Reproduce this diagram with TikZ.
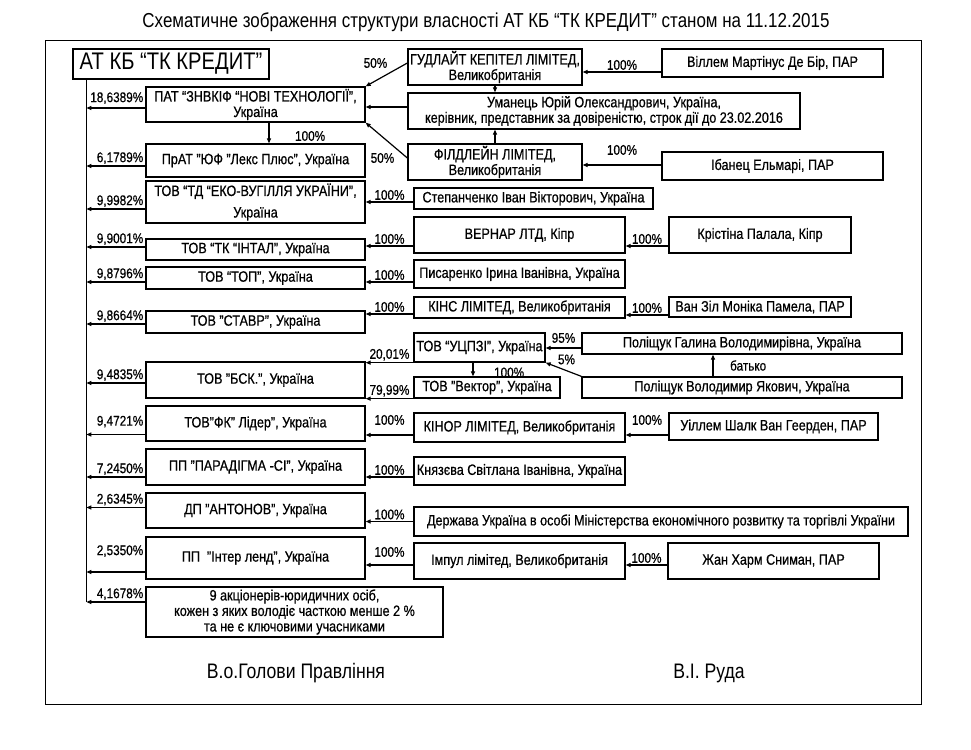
\documentclass[tikz,border=0pt]{standalone}
\usepackage{fontspec}
\setmainfont[FakeStretch=0.84,FakeBold=0.6]{Liberation Sans}
\newfontfamily\plainfont[FakeStretch=0.84]{Liberation Sans}
\usetikzlibrary{positioning,calc,arrows.meta}
\tikzset{font=\fontsize{15}{15.5}\selectfont}

\begin{document}
\begin{tikzpicture}[x=1pt,y=-1pt]
	\useasboundingbox (0,0) rectangle (971,749);
	\begin{scope}
		\tikzstyle{every node}=[align=center, inner sep=0pt]
		\tikzstyle{box}=[draw, line width=1.3pt]
		\tikzstyle{pct}=[font=\fontsize{14}{15}\selectfont, inner sep=1.5pt]
		\tikzstyle{arr}=[line width=1.2pt, -{Triangle[length=5pt,width=4pt]}]

		\draw[line width=0.8pt] (45,40) rectangle (921,704);
		\node[font=\plainfont\fontsize{20.2}{22}\selectfont] (heading) at (486,22) {Схематичне зображення структури власності АТ КБ “ТК КРЕДИТ” станом на 11.12.2015};
		\node[box, font=\plainfont\fontsize{24}{26}\selectfont, minimum width=196, minimum height=30] (kredyt) at (171,64) {АТ КБ “ТК КРЕДИТ”};

		% direct holders
		\node[box, minimum width=219, minimum height=35] (znvkif) at (255.5,104.5) {ПАТ “ЗНВКІФ “НОВІ ТЕХНОЛОГІЇ”,\\Україна};
		\node[box, minimum width=219, minimum height=33] (lex)    at (255.5,160.5) {ПрАТ "ЮФ "Лекс Плюс", Україна};
		\node[box, minimum width=219, minimum height=42] (vuhil)  at (255.5,202)   {ТОВ “ТД “ЕКО-ВУГІЛЛЯ УКРАЇНИ”,\\[6pt]Україна};
		\node[box, minimum width=219, minimum height=21] (intal)  at (255.5,249.5) {ТОВ “ТК “ІНТАЛ”, Україна};
		\node[box, minimum width=219, minimum height=22] (tovtop) at (255.5,278)   {ТОВ “ТОП”, Україна};
		\node[box, minimum width=219, minimum height=22] (stavr)  at (255.5,322)   {ТОВ "СТАВР", Україна};
		\node[box, minimum width=219, minimum height=36] (bsk)    at (255.5,380)   {ТОВ "БСК.", Україна};
		\node[box, minimum width=219, minimum height=35] (lider)  at (255.5,423.5) {ТОВ"ФК" Лідер", Україна};
		\node[box, minimum width=219, minimum height=36] (parad)  at (255.5,467)   {ПП "ПАРАДІГМА -СІ", Україна};
		\node[box, minimum width=219, minimum height=35] (anton)  at (255.5,510.5) {ДП "АНТОНОВ", Україна};
		\node[box, minimum width=219, minimum height=42] (inter)  at (255.5,558)   {ПП \ "Інтер ленд", Україна};
		\node[box, minimum width=297, minimum height=50] (minor)  at (294.5,612)   {9 акціонерів-юридичних осіб,\\кожен з яких володіє часткою менше 2 \%\\та не є ключовими учасниками};

		% second level
		\node[box, minimum width=174, minimum height=36] (gudl)   at (495,67)     {ГУДЛАЙТ КЕПІТЕЛ ЛІМІТЕД,\\Великобританія};
		\node[box, minimum width=392, minimum height=36] (uman)   at (604,111)    {Уманець Юрій Олександрович, Україна,\\керівник, представник за довіреністю, строк дії до 23.02.2016};
		\node[box, minimum width=174, minimum height=36] (fild)   at (495,162)    {ФІЛДЛЕЙН ЛІМІТЕД,\\Великобританія};
		\node[box, minimum width=239, minimum height=21] (step)   at (533.5,198.5) {Степанченко Іван Вікторович, Україна};
		\node[box, minimum width=211, minimum height=36] (vern)   at (519.5,235)  {ВЕРНАР ЛТД, Кіпр};
		\node[box, minimum width=211, minimum height=28] (pys)    at (519.5,274)  {Писаренко Ірина Іванівна, Україна};
		\node[box, minimum width=211, minimum height=21] (kins)   at (519.5,307.5) {КІНС ЛІМІТЕД, Великобританія};
		\node[box, minimum width=131, minimum height=29] (ucpz)   at (479.5,347.5) {ТОВ “УЦПЗІ”, Україна};
		\node[box, minimum width=146, minimum height=21] (vekt)   at (487,387.5)  {ТОВ "Вектор", Україна};
		\node[box, minimum width=211, minimum height=29] (kinor)  at (519.5,427.5) {КІНОР ЛІМІТЕД, Великобританія};
		\node[box, minimum width=211, minimum height=28] (knyaz)  at (519.5,471)  {Князєва Світлана Іванівна, Україна};
		\node[box, minimum width=494, minimum height=29] (derzh)  at (661,521.5)  {Держава Україна в особі Міністерства економічного розвитку та торгівлі України};
		\node[box, minimum width=211, minimum height=36] (impul)  at (519.5,561)  {Імпул лімітед, Великобританія};

		% third level
		\node[box, minimum width=221, minimum height=28] (vill)   at (772.5,63)   {Віллем Мартінус Де Бір, ПАР};
		\node[box, minimum width=221, minimum height=28] (iban)   at (772.5,166)  {Ібанец Ельмарі, ПАР};
		\node[box, minimum width=182, minimum height=36] (krist)  at (760,235)    {Крістіна Палала, Кіпр};
		\node[box, minimum width=182, minimum height=20] (vanzil) at (760,307)    {Ван Зіл Моніка Памела, ПАР};
		\node[box, minimum width=320, minimum height=21] (halyna) at (742,343.5)  {Поліщук Галина Володимирівна, Україна};
		\node[box, minimum width=320, minimum height=21] (volod)  at (742,387.5)  {Поліщук Володимир Якович, Україна};
		\node[box, minimum width=209, minimum height=27] (uillem) at (773.5,426.5) {Уіллем Шалк Ван Геерден, ПАР};
		\node[box, minimum width=211, minimum height=36] (zhan)   at (773.5,561)  {Жан Харм Сниман, ПАР};

		\node[font=\plainfont\fontsize{21}{23}\selectfont] (acting) at (296,673) {В.о.Голови Правління};
		\node[font=\plainfont\fontsize{21}{23}\selectfont] (ruda)   at (709,673) {В.І. Руда};

		% trunk into the bank
		\coordinate (trunk) at ([xshift=14pt]kredyt.south west);
		\coordinate (trunkend) at ([yshift=10pt]minor.west -| trunk);
		\draw[line width=1.2pt] (trunk) -- (trunkend);

		\draw[arr] ([yshift=-3.5pt]znvkif.west) -- ([yshift=-3.5pt]znvkif.west -| trunk) node[pct, pos=0, anchor=south east, yshift=2pt] (pznvkif) {18,6389\%};
		\draw[arr] ([yshift=-5.5pt]lex.west) -- ([yshift=-5.5pt]lex.west -| trunk) node[pct, pos=0, anchor=south east] (plex) {6,1789\%};
		\draw[arr] ([yshift=-7pt]vuhil.west) -- ([yshift=-7pt]vuhil.west -| trunk) node[pct, pos=0, anchor=south east] (pvuhil) {9,9982\%};
		\draw[arr] ([yshift=2.5pt]intal.west) -- ([yshift=2.5pt]intal.west -| trunk) node[pct, pos=0, anchor=south east] (pintal) {9,9001\%};
		\draw[arr] ([yshift=-4pt]tovtop.west) -- ([yshift=-4pt]tovtop.west -| trunk) node[pct, pos=0, anchor=south east] (ptovtop) {9,8796\%};
		\draw[arr] ([yshift=-2pt]stavr.west) -- ([yshift=-2pt]stavr.west -| trunk) node[pct, pos=0, anchor=south east] (pstavr) {9,8664\%};
		\draw[arr] ([yshift=-3pt]bsk.west) -- ([yshift=-3pt]bsk.west -| trunk) node[pct, pos=0, anchor=south east] (pbsk) {9,4835\%};
		\draw[arr] ([yshift=-11pt]lider.west) -- ([yshift=-11pt]lider.west -| trunk) node[pct, pos=0, anchor=south east, yshift=5pt] (plider) {9,4721\%};
		\draw[arr] ([yshift=-10pt]parad.west) -- ([yshift=-10pt]parad.west -| trunk) node[pct, pos=0, anchor=south east] (pparad) {7,2450\%};
		\draw[arr] ([yshift=3pt]anton.west) -- ([yshift=3pt]anton.west -| trunk) node[pct, pos=0, anchor=south east] (panton) {2,6345\%};
		\draw[arr] ([yshift=-14pt]inter.west) -- ([yshift=-14pt]inter.west -| trunk) node[pct, pos=0, anchor=south east, yshift=13pt] (pinter) {2,5350\%};
		\draw[arr] ([yshift=10pt]minor.west) -- (trunkend) node[pct, pos=0, anchor=south east] (pminor) {4,1678\%};

		% owners of the holders
		\draw[arr] ([xshift=13.5pt]znvkif.south) -- ([xshift=13.5pt]znvkif.south |- lex.north) node[pct, midway, right=24pt, yshift=-3pt] (pzl) {100\%};
		\draw[arr] ([yshift=4pt]gudl.west) -- (znvkif.north east) node[pct, pos=0, left=18pt] (pgudl) {50\%};
		\draw[arr] ([yshift=4pt]uman.west) -- ([yshift=4pt]uman.west -| znvkif.east);
		\draw[arr] ([yshift=4pt]fild.west) -- (znvkif.south east) node[pct, pos=0, left=11pt] (pfild) {50\%};
		\draw[arr] (gudl.south) -- (gudl.south |- uman.north);
		\draw[arr] (fild.north) -- (fild.north |- uman.south);
		\draw[arr] ([yshift=-9pt]vill.west) -- ([yshift=-9pt]vill.west -| gudl.east) node[pct, midway, above] (pvill) {100\%};
		\draw[arr] ([yshift=1pt]iban.west) -- ([yshift=1pt]iban.west -| fild.east) node[pct, midway, above, yshift=8pt] (piban) {100\%};
		\draw[arr] ([yshift=-3.5pt]step.west) -- ([yshift=-3.5pt]step.west -| vuhil.east) node[pct, midway, above] (pstep) {100\%};
		\draw[arr] ([yshift=-11pt]vern.west) -- ([yshift=-11pt]vern.west -| intal.east) node[pct, midway, above] (pvern) {100\%};
		\draw[arr] ([yshift=-11pt]krist.west) -- ([yshift=-11pt]krist.west -| vern.east) node[pct, midway, above] (pkrist) {100\%};
		\draw[arr] ([yshift=-8pt]pys.west) -- ([yshift=-8pt]pys.west -| tovtop.east) node[pct, midway, above] (ppys) {100\%};
		\draw[arr] ([yshift=-6.5pt]kins.west) -- ([yshift=-6.5pt]kins.west -| stavr.east) node[pct, midway, above] (pkins) {100\%};
		\draw[arr] ([yshift=-8pt]vanzil.west) -- ([yshift=-8pt]vanzil.west -| kins.east) node[pct, midway, above] (pvanzil) {100\%};
		\draw[arr] (ucpz.south west) -- (ucpz.south west -| bsk.east) node[pct, midway, above] (pucpz) {20,01\%};
		\draw[arr] (vekt.south west) -- (vekt.south west -| bsk.east) node[pct, midway, above] (pvekt) {79,99\%};
		\draw[arr] ([xshift=-6.5pt]ucpz.south) -- ([xshift=-6.5pt]ucpz.south |- vekt.north) node[pct, midway, right=19pt, yshift=-3pt] (puv) {100\%};
		\draw[arr] ([yshift=-4.5pt]halyna.west) -- ([yshift=-4.5pt]halyna.west -| ucpz.east) node[pct, midway, above, yshift=3pt] (phalyna) {95\%};
		\draw[arr] (volod.north west) -- (ucpz.south east) node[pct, midway, above, xshift=3pt, yshift=3pt] (pvolod) {5\%};
		\draw[arr] ([xshift=-29pt]volod.north) -- ([xshift=-29pt]volod.north |- halyna.south) node[pct, midway, right=15pt] (pfather) {батько};
		\draw[arr] ([yshift=-7.5pt]kinor.west) -- ([yshift=-7.5pt]kinor.west -| lider.east) node[pct, midway, above, yshift=8pt] (pkinor) {100\%};
		\draw[arr] ([yshift=-8.5pt]uillem.west) -- ([yshift=-8.5pt]uillem.west -| kinor.east) node[pct, midway, above, yshift=8pt] (puillem) {100\%};
		\draw[arr] ([yshift=-6pt]knyaz.west) -- ([yshift=-6pt]knyaz.west -| parad.east) node[pct, midway, above] (pknyaz) {100\%};
		\draw[arr] (derzh.west) -- (derzh.west -| anton.east) node[pct, midway, above] (pderzh) {100\%};
		\draw[arr] ([yshift=-4pt]impul.west) -- ([yshift=-4pt]impul.west -| inter.east) node[pct, midway, above, yshift=6pt] (pimpul) {100\%};
		\draw[arr] ([yshift=-4pt]zhan.west) -- ([yshift=-4pt]zhan.west -| impul.east) node[pct, midway, above] (pzhan) {100\%};
	\end{scope}
\end{tikzpicture}
\end{document}
